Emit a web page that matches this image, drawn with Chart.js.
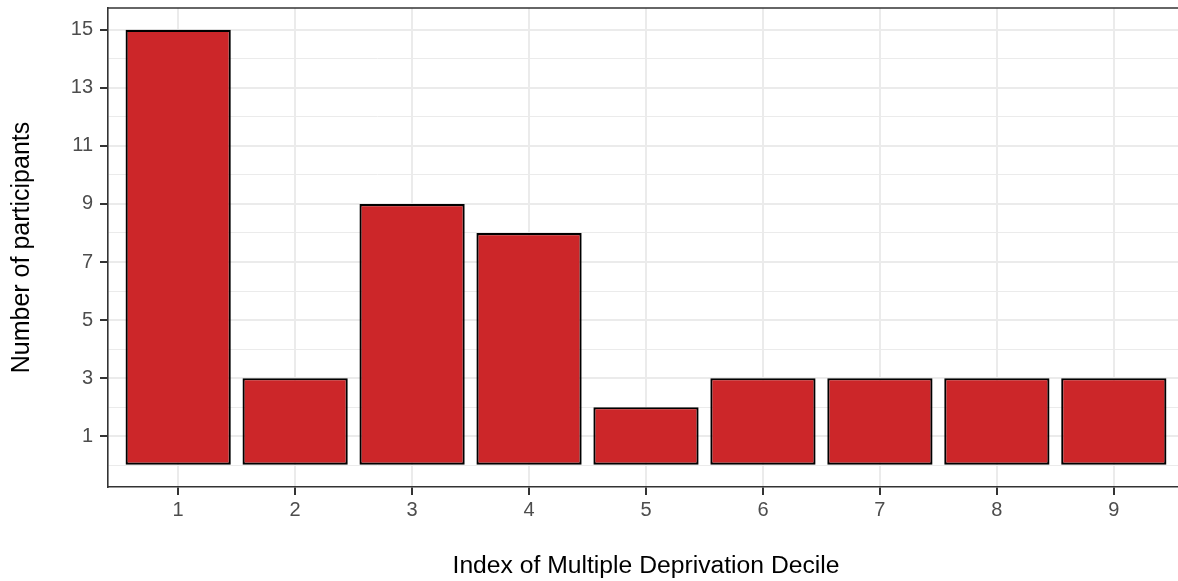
<!DOCTYPE html>
<html>
<head>
<meta charset="utf-8">
<script src="https://cdn.jsdelivr.net/npm/chart.js@4"></script>
<style>
  html, body { margin: 0; padding: 0; background: #fff; overflow: hidden; }
  #wrap { width: 1184px; height: 581px; position: relative; }
</style>
</head>
<body>
<div id="wrap"><canvas id="imd"></canvas></div>
<script>
const deciles = [1, 2, 3, 4, 5, 6, 7, 8, 9];
const participants = [15, 3, 9, 8, 2, 3, 3, 3, 3];
const yTicks = [0, 1, 2, 3, 4, 5, 6, 7, 8, 9, 10, 11, 12, 13, 14, 15];
const yLabelled = [1, 3, 5, 7, 9, 11, 13, 15];

loadDecileChart()

function loadDecileChart(){
  Chart.defaults.font.family = "'Liberation Sans', Arial, sans-serif";
  Chart.defaults.color = "#4D4D4D";

  const isMajor = (ctx) => ctx.tick && yLabelled.includes(ctx.tick.value);

  // theme_bw style top border of the panel
  const panelTop = {
    id: 'panelTop',
    afterDraw(chart) {
      const { ctx, chartArea } = chart;
      ctx.save();
      ctx.strokeStyle = '#333333';
      ctx.lineWidth = 1.6;
      ctx.beginPath();
      ctx.moveTo(chartArea.left, chartArea.top);
      ctx.lineTo(chartArea.right, chartArea.top);
      ctx.stroke();
      ctx.restore();
    }
  };

  const data = {
    datasets: [{
      label: 'Number of participants',
      data: deciles.map((d, i) => ({ x: d, y: participants[i] })),
      backgroundColor: '#CC2629',
      borderColor: '#000000',
      borderWidth: 2.2,
      borderSkipped: false,
      barPercentage: 0.9,
      categoryPercentage: 1.0
    }]
  };

  const config = {
    type: 'bar',
    data: data,
    plugins: [panelTop],
    options: {
      responsive: true,
      maintainAspectRatio: false,
      animation: false,
      layout: { padding: { top: 8, right: 0, left: 0, bottom: 0 } },
      plugins: {
        legend: { display: false },
        tooltip: { enabled: false }
      },
      scales: {
        x: {
          type: 'linear',
          min: 0.4,
          max: 9.6,
          offset: false,
          afterBuildTicks: (scale) => { scale.ticks = deciles.map(v => ({ value: v })); },
          afterFit: (scale) => { scale.height = 94; },
          grid: {
            offset: false,
            color: '#EBEBEB',
            lineWidth: 2,
            tickColor: '#333333',
            tickLength: 8,
            tickWidth: 2
          },
          border: { color: '#333333', width: 1.6 },
          ticks: {
            includeBounds: false,
            padding: 3,
            font: { size: 20 },
            color: '#4D4D4D'
          },
          title: {
            display: true,
            text: 'Index of Multiple Deprivation Decile',
            color: '#000000',
            font: { size: 24.7 },
            padding: { top: 4, bottom: 0 }
          }
        },
        y: {
          min: -0.75,
          max: 15.75,
          afterBuildTicks: (scale) => { scale.ticks = yTicks.map(v => ({ value: v })); },
          afterFit: (scale) => {
            scale.width = 108;
            scale.paddingTop = 0;
            scale.paddingBottom = 0;
          },
          grid: {
            color: '#EBEBEB',
            lineWidth: (ctx) => isMajor(ctx) ? 2 : 1,
            tickColor: (ctx) => isMajor(ctx) ? '#333333' : 'rgba(0,0,0,0)',
            tickLength: 8,
            tickWidth: 2
          },
          border: { color: '#333333', width: 1.6 },
          ticks: {
            includeBounds: false,
            padding: 7,
            font: { size: 20 },
            color: '#4D4D4D',
            callback: (v) => yLabelled.includes(v) ? String(v) : ''
          },
          title: {
            display: true,
            text: 'Number of participants',
            color: '#000000',
            font: { size: 25 },
            padding: { top: 7, bottom: 4 }
          }
        }
      }
    }
  };

  const decileChart = new Chart(
    document.getElementById('imd'),
    config
  );
}
</script>
</body>
</html>
